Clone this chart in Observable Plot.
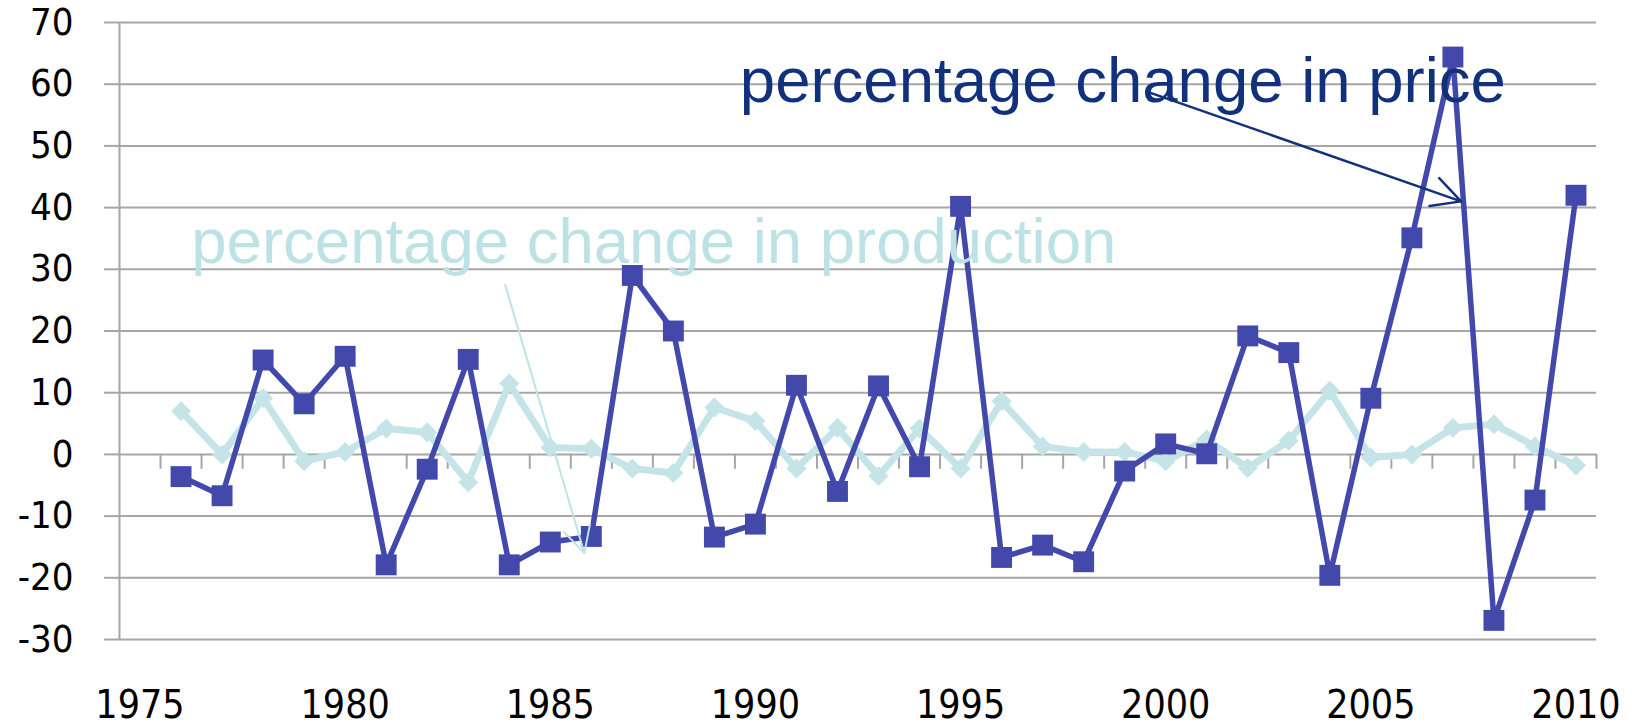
<!DOCTYPE html>
<html>
<head>
<meta charset="utf-8">
<script src="https://cdn.jsdelivr.net/npm/d3@7"></script>
<script src="https://cdn.jsdelivr.net/npm/@observablehq/plot@0.6"></script>
<style>
  html, body { margin: 0; padding: 0; background: #ffffff; }
  #chart svg { display: block; }
</style>
</head>
<body>
<div id="chart"></div>
<script>
// ---- data ----
const years = [1976, 1977, 1978, 1979, 1980, 1981, 1982, 1983, 1984, 1985,
               1986, 1987, 1988, 1989, 1990, 1991, 1992, 1993, 1994, 1995,
               1996, 1997, 1998, 1999, 2000, 2001, 2002, 2003, 2004, 2005,
               2006, 2007, 2008, 2009, 2010];

const priceChange = [-3.6, -6.7, 15.3, 8.2, 15.9, -17.9, -2.4, 15.4, -17.9, -14.2,
                     -13.3, 29.0, 20.0, -13.4, -11.3, 11.2, -6.0, 11.1, -2.0, 40.2,
                     -16.7, -14.7, -17.4, -2.7, 1.7, 0.1, 19.2, 16.5, -19.6, 9.1,
                     35.1, 64.4, -26.9, -7.4, 42.0];

const productionChange = [7.0, 0.0, 9.1, -1.1, 0.4, 4.2, 3.6, -4.5, 11.5, 1.1,
                          0.9, -2.3, -3.0, 7.6, 5.4, -2.3, 4.3, -3.5, 4.2, -2.3,
                          8.6, 1.3, 0.4, 0.4, -1.1, 2.4, -2.2, 2.2, 10.3, -0.5,
                          0.0, 4.3, 4.9, 1.3, -1.8];

// category slots on the horizontal axis (1975 has no data)
const categoryYears = [1975, 1976, 1977, 1978, 1979, 1980, 1981, 1982, 1983, 1984,
                       1985, 1986, 1987, 1988, 1989, 1990, 1991, 1992, 1993, 1994,
                       1995, 1996, 1997, 1998, 1999, 2000, 2001, 2002, 2003, 2004,
                       2005, 2006, 2007, 2008, 2009, 2010];

const yTickValues = [-30, -20, -10, 0, 10, 20, 30, 40, 50, 60, 70];
const xTickLabels = [1975, 1980, 1985, 1990, 1995, 2000, 2005, 2010];

// annotations (data coordinates)
const priceLabel = [{x: 1989.62, y: 57.1, text: "percentage change in price"}];
const productionLabel = [{x: 1976.25, y: 31.1, text: "percentage change in production"}];
const priceArrow = [{x1: 1999.63, y1: 58.6, x2: 2007.2, y2: 41.0}];
const productionArrow = [{x1: 1983.9, y1: 27.5, x2: 1985.83, y2: -16.0}];

// ---- build tables ----
const priceData = years.map((yr, i) => ({year: yr, value: priceChange[i]}));
const productionData = years.map((yr, i) => ({year: yr, value: productionChange[i]}));
const slotEdges = categoryYears.map(y => y - 0.5).concat([categoryYears[categoryYears.length - 1] + 0.5]);
const zeroTicks = slotEdges.slice(1);

const gridColor = "#a6a6a6";
const priceColor = "#4349ab";
const productionColor = "#c4e4e8";
const axisFont = "'DejaVu Sans Condensed', 'DejaVu Sans', sans-serif";

const chart = Plot.plot({
  width: 1633,
  height: 726,
  marginLeft: 119,
  marginRight: 37,
  marginTop: 22,
  marginBottom: 87,
  x: {domain: [slotEdges[0], slotEdges[slotEdges.length - 1]]},
  y: {domain: [yTickValues[0], yTickValues[yTickValues.length - 1]]},
  style: {fontFamily: axisFont, background: "#ffffff", color: "#000000"},
  marks: [
    // horizontal gridlines
    Plot.ruleY(yTickValues, {stroke: gridColor, strokeWidth: 2}),
    // vertical axis line
    Plot.ruleX([slotEdges[0]], {y1: yTickValues[0], y2: yTickValues[yTickValues.length - 1], stroke: gridColor, strokeWidth: 2}),
    // category tick marks hanging from the zero line
    Plot.ruleX(zeroTicks, {x: d => d, y1: 0, y2: -2.4, stroke: gridColor, strokeWidth: 2}),
    Plot.axisY({
      ticks: yTickValues, tickSize: 15, tickPadding: 31, fontSize: 38,
      label: null, stroke: gridColor, strokeWidth: 2, fill: "#000000",
      fontFamily: axisFont, tickFormat: d => String(d)
    }),
    Plot.axisX({
      ticks: xTickLabels, tickSize: 0, tickPadding: 51, fontSize: 39,
      label: null, fill: "#000000", fontFamily: axisFont, tickFormat: d => String(d)
    }),
    // production series
    Plot.line(productionData, {x: "year", y: "value", stroke: productionColor, strokeWidth: 7}),
    Plot.dot(productionData, {x: "year", y: "value", symbol: "diamond2", r: 9, fill: productionColor}),
    // price series
    Plot.line(priceData, {x: "year", y: "value", stroke: priceColor, strokeWidth: 5.5}),
    Plot.dot(priceData, {x: "year", y: "value", symbol: "square", r: 11.8, fill: priceColor}),
    // annotations
    Plot.text(productionLabel, {
      x: "x", y: "y", text: "text", textAnchor: "start", lineAnchor: "bottom",
      fontSize: 63.5, fontFamily: "Liberation Sans", fill: "#bde2e5"
    }),
    Plot.arrow(productionArrow, {
      x1: "x1", y1: "y1", x2: "x2", y2: "y2",
      stroke: "#bfe3e6", strokeWidth: 2, headLength: 22, headAngle: 55
    }),
    Plot.text(priceLabel, {
      x: "x", y: "y", text: "text", textAnchor: "start", lineAnchor: "bottom",
      fontSize: 63.5, fontFamily: "Liberation Sans", fill: "#12317c"
    }),
    Plot.arrow(priceArrow, {
      x1: "x1", y1: "y1", x2: "x2", y2: "y2",
      stroke: "#12317c", strokeWidth: 2.4, headLength: 20, headAngle: 55
    })
  ]
});

document.getElementById("chart").appendChild(chart);
</script>
</body>
</html>
